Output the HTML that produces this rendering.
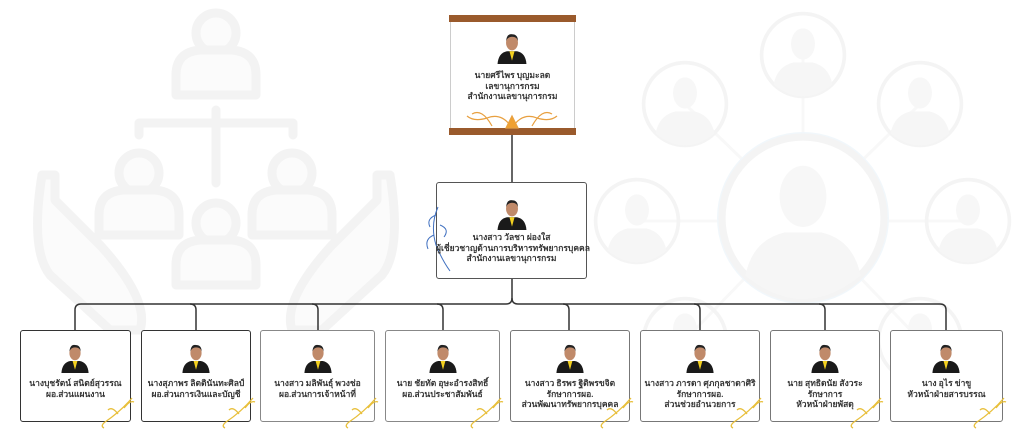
<!DOCTYPE html>
<html><head><meta charset="utf-8">
<style>
*{margin:0;padding:0;box-sizing:border-box}
body{width:1024px;height:443px;background:#fff;position:relative;overflow:hidden;font-family:"Liberation Serif","Noto Serif CJK SC",serif}
.box{position:absolute;background:#fff;border:1.5px solid #555;border-radius:3px}
.txt{position:absolute;left:0;right:0;text-align:center;font-size:8.5px;line-height:10.5px;color:#333;font-weight:bold;white-space:nowrap}
.ph{position:absolute}
</style></head><body>
<svg width="1024" height="443" style="position:absolute;left:0;top:0">
<defs>
<symbol id="p" viewBox="0 0 40 40"><circle cx="20" cy="20" r="19" fill="#fff"/><path d="M3 40 Q4 27 14 25 L26 25 Q36 27 37 40Z" fill="#1a1a1a"/><path d="M17 25 L20 36 L23 25Z" fill="#f2d020"/><ellipse cx="20" cy="15" rx="7" ry="9" fill="#c08a6a"/><path d="M13 13 Q14 4 20 5 Q27 5 27 13 Q26 8 20 8 Q15 8 13 13Z" fill="#222"/></symbol>
<symbol id="cp" viewBox="0 0 100 100"><circle cx="50" cy="50" r="45" fill="none" stroke="#f4f4f4" stroke-width="4"/><ellipse cx="50" cy="38" rx="13" ry="17" fill="#f7f7f7"/><path d="M18 82 Q22 62 40 58 L60 58 Q78 62 82 82 Q66 95 50 95 Q34 95 18 82Z" fill="#f6f6f6"/></symbol>
</defs>
<g fill="#fbfbfb" stroke="#f3f3f3" stroke-width="9" stroke-linecap="round" stroke-linejoin="round">
<path d="M42 175 Q30 250 50 275 L110 330 L140 330 Q150 300 100 245 L55 200 V175Z"/>
<path d="M390 175 Q402 250 382 275 L322 330 L292 330 Q282 300 332 245 L377 200 V175Z"/>
<circle cx="216" cy="33" r="20"/><path d="M176 95 V75 Q176 52 200 50 H232 Q256 52 256 75 V95Z"/>
<path fill="none" d="M139 135 V123 H293 V135 M216 110 V183"/>
<circle cx="139" cy="173" r="20"/><path d="M99 235 V215 Q99 192 123 190 H155 Q179 192 179 215 V235Z"/>
<circle cx="292" cy="173" r="20"/><path d="M252 235 V215 Q252 192 276 190 H308 Q332 192 332 215 V235Z"/>
<circle cx="216" cy="223" r="20"/><path d="M176 285 V265 Q176 242 200 240 H232 Q256 242 256 265 V285Z"/>
</g>
<g stroke="#f8f8f8" stroke-width="3"><line x1="803" y1="55" x2="803" y2="218"/><line x1="685" y1="104" x2="803" y2="218"/><line x1="920" y1="104" x2="803" y2="218"/><line x1="637" y1="221" x2="968" y2="221"/><line x1="685" y1="340" x2="803" y2="218"/><line x1="920" y1="340" x2="803" y2="218"/></g>
<use href="#cp" x="757" y="9" width="92" height="92"/>
<use href="#cp" x="639" y="58" width="92" height="92"/>
<use href="#cp" x="874" y="58" width="92" height="92"/>
<use href="#cp" x="591" y="175" width="92" height="92"/>
<use href="#cp" x="922" y="175" width="92" height="92"/>
<use href="#cp" x="639" y="294" width="92" height="92"/>
<use href="#cp" x="874" y="294" width="92" height="92"/>
<circle cx="803" cy="218" r="83" fill="#fff" stroke="#f1f7fb" stroke-width="6"/>
<use href="#cp" x="713" y="128" width="180" height="180"/>
<g fill="none" stroke="#333" stroke-width="1.5">
<line x1="512" y1="135" x2="512" y2="183"/>
<path d="M512 279 V298 Q512 304 506 304 H81 Q75 304 75 310 V331"/>
<path d="M512 298 Q512 304 518 304 H940 Q946 304 946 310 V331"/>
<path d="M190 304 Q196 304 196 310 V331"/>
<path d="M312 304 Q318 304 318 310 V331"/>
<path d="M437 304 Q443 304 443 310 V331"/>
<path d="M563 304 Q569 304 569 310 V331"/>
<path d="M694 304 Q700 304 700 310 V331"/>
<path d="M819 304 Q825 304 825 310 V331"/>
</g>
</svg>

<div class="box" style="left:450px;top:17px;width:125px;height:116px;border:1px solid #ccc;border-radius:0"></div>
<div style="position:absolute;left:449px;top:15px;width:127px;height:7px;background:#9a5a2c"></div>
<div style="position:absolute;left:449px;top:128px;width:127px;height:7px;background:#9a5a2c"></div>
<svg style="position:absolute;left:462px;top:106px" width="100" height="24"><g fill="none" stroke="#e8a040" stroke-width="1.2"><path d="M50 22 Q40 6 25 12 Q12 16 5 10 M50 22 Q60 6 75 12 Q88 16 95 10 M30 20 Q20 2 10 8 M70 20 Q80 2 90 8"/><path d="M44 22 L50 10 L56 22Z" fill="#f0a030"/></g></svg>
<svg class="ph" style="left:495px;top:30px" width="34" height="36"><use href="#p" width="34" height="34"/></svg>
<div class="txt" style="left:450px;width:125px;right:auto;top:70px">นายศรีไพร บุญมะลด<br>เลขานุการกรม<br>สำนักงานเลขานุการกรม</div>

<div class="box" style="left:436px;top:182px;width:151px;height:97px"></div>
<svg style="position:absolute;left:424px;top:205px" width="30" height="70"><g fill="none" stroke="#4070c0" stroke-width="1"><path d="M14 2 Q6 20 12 40 Q18 55 26 66 M12 10 Q2 14 6 22 M16 20 Q26 24 20 32 M10 30 Q0 34 4 44"/></g></svg>
<svg class="ph" style="left:495px;top:196px" width="34" height="36"><use href="#p" width="34" height="34"/></svg>
<div class="txt" style="left:436px;width:151px;right:auto;top:232px">นางสาว วัลชา ผ่องใส<br>ผู้เชี่ยวชาญด้านการบริหารทรัพยากรบุคคล<br>สำนักงานเลขานุการกรม</div>

<div class="box" style="left:20px;top:330px;width:111px;height:92px;border-color:#333"></div>
<div class="box" style="left:141px;top:330px;width:110px;height:92px;border-color:#333"></div>
<div class="box" style="left:260px;top:330px;width:115px;height:92px;border-color:#888"></div>
<div class="box" style="left:385px;top:330px;width:115px;height:92px;border-color:#888"></div>
<div class="box" style="left:510px;top:330px;width:120px;height:92px;border-color:#777"></div>
<div class="box" style="left:640px;top:330px;width:120px;height:92px;border-color:#777"></div>
<div class="box" style="left:770px;top:330px;width:110px;height:92px;border-color:#777"></div>
<div class="box" style="left:890px;top:330px;width:113px;height:92px;border-color:#777"></div>

<svg class="ph" style="left:59px;top:341px" width="32" height="32"><use href="#p" width="32" height="32"/></svg>
<svg class="ph" style="left:180px;top:341px" width="32" height="32"><use href="#p" width="32" height="32"/></svg>
<svg class="ph" style="left:302px;top:341px" width="32" height="32"><use href="#p" width="32" height="32"/></svg>
<svg class="ph" style="left:427px;top:341px" width="32" height="32"><use href="#p" width="32" height="32"/></svg>
<svg class="ph" style="left:554px;top:341px" width="32" height="32"><use href="#p" width="32" height="32"/></svg>
<svg class="ph" style="left:684px;top:341px" width="32" height="32"><use href="#p" width="32" height="32"/></svg>
<svg class="ph" style="left:809px;top:341px" width="32" height="32"><use href="#p" width="32" height="32"/></svg>
<svg class="ph" style="left:930px;top:341px" width="32" height="32"><use href="#p" width="32" height="32"/></svg>

<div class="txt" style="left:20px;width:111px;right:auto;top:378px">นางบุชรัตน์ สนิตย์สุวรรณ<br>ผอ.ส่วนแผนงาน</div>
<div class="txt" style="left:141px;width:110px;right:auto;top:378px">นางสุภาพร ลิตตินันทะศิลป์<br>ผอ.ส่วนการเงินและบัญชี</div>
<div class="txt" style="left:260px;width:115px;right:auto;top:378px">นางสาว มลิพันธุ์ พวงช่อ<br>ผอ.ส่วนการเจ้าหน้าที่</div>
<div class="txt" style="left:385px;width:115px;right:auto;top:378px">นาย ชัยทัต อุษะอำรงสิทธิ์<br>ผอ.ส่วนประชาสัมพันธ์</div>
<div class="txt" style="left:510px;width:120px;right:auto;top:378px">นางสาว ธิรพร ฐิติพรขจิต<br>รักษาการผอ.<br>ส่วนพัฒนาทรัพยากรบุคคล</div>
<div class="txt" style="left:640px;width:120px;right:auto;top:378px">นางสาว ภารดา ศุภกุลชาดาศิริ<br>รักษาการผอ.<br>ส่วนช่วยอำนวยการ</div>
<div class="txt" style="left:770px;width:110px;right:auto;top:378px">นาย สุทธิดนัย สังวระ<br>รักษาการ<br>หัวหน้าฝ่ายพัสดุ</div>
<div class="txt" style="left:890px;width:113px;right:auto;top:378px">นาง อุไร ข่าขู<br>หัวหน้าฝ่ายสารบรรณ</div>

<svg style="position:absolute;left:0;top:0" width="1024" height="443"><g fill="none" stroke="#e8bf3a" stroke-width="1.3">
<path id="w" d="M105 422 Q120 412 132 398 M118 414 Q112 406 108 410 M124 408 Q130 400 134 402 M105 422 Q100 426 104 428"/>
</g>
<g fill="none" stroke="#e8bf3a" stroke-width="1.3">
<use href="#w" x="121"/><use href="#w" x="244"/><use href="#w" x="369"/><use href="#w" x="499"/><use href="#w" x="629"/><use href="#w" x="749"/><use href="#w" x="872"/>
</g></svg>
</body></html>
